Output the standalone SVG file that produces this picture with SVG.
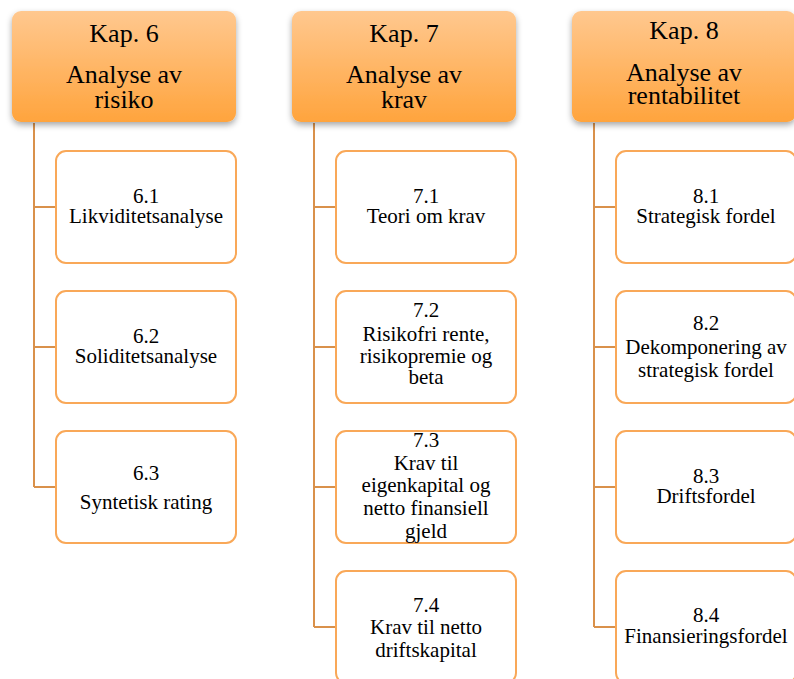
<svg xmlns="http://www.w3.org/2000/svg" width="794" height="679" viewBox="0 0 794 679">
<defs>
<linearGradient id="hg" x1="0" y1="0" x2="0" y2="1">
<stop offset="0" stop-color="#FFC88F"/>
<stop offset="1" stop-color="#FFA43D"/>
</linearGradient>
<filter id="sh" x="-10%" y="-10%" width="120%" height="130%">
<feDropShadow dx="0" dy="3" stdDeviation="3" flood-color="#000" flood-opacity="0.35"/>
</filter>
</defs>
<style>
.hd{fill:url(#hg);filter:url(#sh)}
.bx{fill:#fff;stroke:#F9A858;stroke-width:2}
.cn{fill:none;stroke:#D9914B;stroke-width:2}
.ht{font-size:26px;text-anchor:middle;fill:#000}
.ct{font-size:21px;text-anchor:middle;fill:#000}
</style>
<rect width="794" height="679" fill="#fff"/>
<g id="connectors">
<path class="cn" d="M34 123V487M34 207H56M34 347H56M34 487H56"/>
<path class="cn" d="M314 123V627M314 207H336M314 347H336M314 487H336M314 627H336"/>
<path class="cn" d="M594 123V627M594 207H616M594 347H616M594 487H616M594 627H616"/>
</g>
<g font-family="Liberation Serif, Times New Roman, serif">
<g id="kap6">
<rect class="hd" x="12" y="11" width="224" height="111" rx="9"/>
<text class="ht" x="124" y="42">Kap. 6</text>
<text class="ht" x="124" y="83">Analyse av</text>
<text class="ht" x="124" y="108">risiko</text>
</g>
<g id="kap7">
<rect class="hd" x="292" y="11" width="224" height="111" rx="9"/>
<text class="ht" x="404" y="42">Kap. 7</text>
<text class="ht" x="404" y="83">Analyse av</text>
<text class="ht" x="404" y="108">krav</text>
</g>
<g id="kap8">
<rect class="hd" x="572" y="11" width="224" height="111" rx="9"/>
<text class="ht" x="684" y="39">Kap. 8</text>
<text class="ht" x="684" y="81">Analyse av</text>
<text class="ht" x="684" y="104">rentabilitet</text>
</g>
<g id="n6_1">
<rect class="bx" x="56" y="151" width="180" height="112" rx="10"/>
<text class="ct" x="146" y="203">6.1</text>
<text class="ct" x="146" y="223">Likviditetsanalyse</text>
</g>
<g id="n6_2">
<rect class="bx" x="56" y="291" width="180" height="112" rx="10"/>
<text class="ct" x="146" y="343">6.2</text>
<text class="ct" x="146" y="363">Soliditetsanalyse</text>
</g>
<g id="n6_3">
<rect class="bx" x="56" y="431" width="180" height="112" rx="10"/>
<text class="ct" x="146" y="480">6.3</text>
<text class="ct" x="146" y="509">Syntetisk rating</text>
</g>
<g id="n7_1">
<rect class="bx" x="336" y="151" width="180" height="112" rx="10"/>
<text class="ct" x="426" y="203">7.1</text>
<text class="ct" x="426" y="223">Teori om krav</text>
</g>
<g id="n7_2">
<rect class="bx" x="336" y="291" width="180" height="112" rx="10"/>
<text class="ct" x="426" y="317">7.2</text>
<text class="ct" x="426" y="341">Risikofri rente,</text>
<text class="ct" x="426" y="363">risikopremie og</text>
<text class="ct" x="426" y="384">beta</text>
</g>
<g id="n7_3">
<rect class="bx" x="336" y="431" width="180" height="112" rx="10"/>
<text class="ct" x="426" y="447">7.3</text>
<text class="ct" x="426" y="470">Krav til</text>
<text class="ct" x="426" y="492">eigenkapital og</text>
<text class="ct" x="426" y="515">netto finansiell</text>
<text class="ct" x="426" y="538">gjeld</text>
</g>
<g id="n7_4">
<rect class="bx" x="336" y="571" width="180" height="112" rx="10"/>
<text class="ct" x="426" y="612">7.4</text>
<text class="ct" x="426" y="634">Krav til netto</text>
<text class="ct" x="426" y="657">driftskapital</text>
</g>
<g id="n8_1">
<rect class="bx" x="616" y="151" width="180" height="112" rx="10"/>
<text class="ct" x="706" y="203">8.1</text>
<text class="ct" x="706" y="223">Strategisk fordel</text>
</g>
<g id="n8_2">
<rect class="bx" x="616" y="291" width="180" height="112" rx="10"/>
<text class="ct" x="706" y="330">8.2</text>
<text class="ct" x="706" y="354">Dekomponering av</text>
<text class="ct" x="706" y="377">strategisk fordel</text>
</g>
<g id="n8_3">
<rect class="bx" x="616" y="431" width="180" height="112" rx="10"/>
<text class="ct" x="706" y="483">8.3</text>
<text class="ct" x="706" y="503">Driftsfordel</text>
</g>
<g id="n8_4">
<rect class="bx" x="616" y="571" width="180" height="112" rx="10"/>
<text class="ct" x="706" y="622">8.4</text>
<text class="ct" x="706" y="643">Finansieringsfordel</text>
</g>
</g>
</svg>
